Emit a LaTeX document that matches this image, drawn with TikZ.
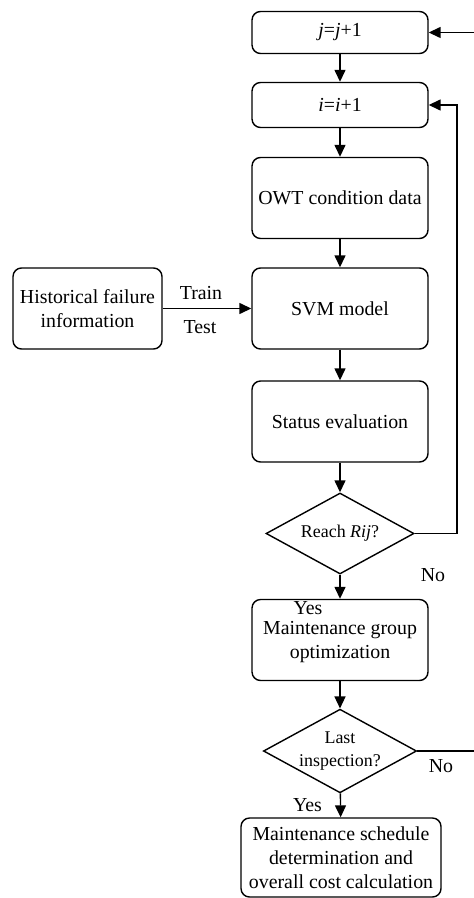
\documentclass[tikz,border=0pt]{standalone}
\usepackage{fontspec}
\setmainfont{Liberation Serif}
\usetikzlibrary{shapes.geometric,arrows.meta}

\begin{document}
\begin{tikzpicture}[x=0.02cm,y=-0.02cm,line width=0.8pt,
        >={Triangle[length=0.24cm,width=0.22cm]},
        procbox/.style={draw,rounded corners=0.17cm,minimum width=3.52cm,minimum height=1.62cm,
            inner sep=1pt,align=center,font=\fontsize{11.3}{13.6}\selectfont},
        decision/.style={draw,diamond,aspect=1.83,minimum width=2.96cm,minimum height=1.62cm,
            inner sep=0pt,align=center,font=\fontsize{10.2}{13.4}\selectfont},
        lbl/.style={font=\fontsize{11.3}{13.6}\selectfont,inner sep=0pt}]
        \useasboundingbox (0,0) rectangle (473,898);
        % main column
        \node[procbox,minimum height=0.84cm] (jbox) at (340,32.5) {\textit{j}=\textit{j}+1};
        \node[procbox,minimum height=0.9cm] (ibox) at (340,105) {\textit{i}=\textit{i}+1};
        \node[procbox] (owt) at (340,198) {OWT condition data};
        \node[procbox] (svm) at (340,308.5) {SVM model};
        \node[procbox] (status) at (340,421.5) {Status evaluation};
        \node[decision] (reach) at (340,533.5) {Reach \textit{Rij}?};
        \node[procbox] (group) at (340,640) {\strut\\[-13pt]Maintenance group\\optimization};
        \node[decision] (last) at (340,751) {Last\\inspection?};
        \node[procbox,minimum width=4cm,minimum height=1.58cm] (final) at (341,857.5)
            {Maintenance schedule\\determination and\\overall cost calculation};
        \node[procbox,minimum width=2.98cm] (hist) at (87.5,308.5) {Historical failure\\information};
        % labels
        \node[lbl] (train) at (201,293) {Train};
        \node[lbl] (test) at (200,327) {Test};
        \node[lbl] (no1) at (433,575) {No};
        \node[lbl] (yes1) at (308,608) {Yes};
        \node[lbl] (no2) at (441,766) {No};
        \node[lbl] (yes2) at (307.5,805) {Yes};
        % loop corners
        \coordinate (inner) at (457,533.5);
        \coordinate (outer) at (486,751);
        % connectors
        \draw[->] (jbox) -- (ibox);
        \draw[->] (ibox) -- (owt);
        \draw[->] (owt) -- (svm);
        \draw[->] (svm) -- (status);
        \draw[->] (status) -- (reach);
        \draw[->] (reach) -- (group);
        \draw[->] (group) -- (last);
        \draw[->] (last) -- (final);
        \draw[->] (hist) -- (svm);
        \draw[->] (reach.east) -- (inner) |- (ibox.east);
        \draw[->] (last.east) -- (outer) |- (jbox.east);
\end{tikzpicture}
\end{document}
